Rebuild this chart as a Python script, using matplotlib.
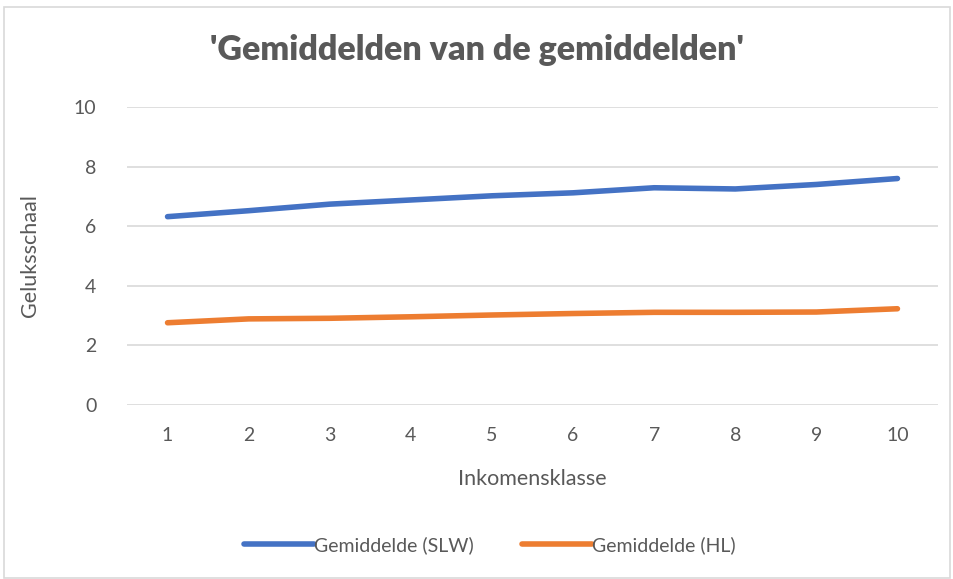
import matplotlib
matplotlib.use('Agg')
from matplotlib import pyplot as plt
from matplotlib.patches import Rectangle

klasse = [1, 2, 3, 4, 5, 6, 7, 8, 9, 10]
slw = [6.32, 6.52, 6.74, 6.88, 7.02, 7.12, 7.29, 7.25, 7.40, 7.60]
hl = [2.76, 2.89, 2.91, 2.96, 3.02, 3.07, 3.11, 3.11, 3.12, 3.23]

grey = '#595959'
plt.rcParams['font.family'] = ['Lato', 'DejaVu Sans']

fig = plt.figure(figsize=(9.54, 5.79), dpi=100)
ax = fig.add_axes([127/954, 1 - 405/579, (938-127)/954, (405-107)/579])

ax.plot(klasse, slw, color='#4472C4', linewidth=4, solid_capstyle='round', label='Gemiddelde (SLW)')
ax.plot(klasse, hl, color='#ED7D31', linewidth=4, solid_capstyle='round', label='Gemiddelde (HL)')

ax.set_xlim(0.5, 10.5)
ax.set_ylim(0, 10)
ax.set_xticks(klasse)
ax.set_yticks([0, 2, 4, 6, 8, 10])
ax.grid(axis='y', color='#D9D9D9', linewidth=1.2)
ax.set_axisbelow(True)
for s in ax.spines.values():
    s.set_visible(False)
ax.tick_params(length=0, labelsize=14, colors=grey)
ax.tick_params(axis='x', pad=16)
ax.tick_params(axis='y', pad=22)

ax.set_xlabel('Inkomensklasse', fontsize=15.5, color=grey, labelpad=18)
ax.set_ylabel('Geluksschaal', fontsize=15.5, color=grey, labelpad=24)
fig.text(0.5, 1 - 50/579, "'Gemiddelden van de gemiddelden'", ha='center', va='center',
         fontsize=24.5, fontweight='heavy', color=grey)

leg = fig.legend(loc='center', bbox_to_anchor=(490/954, 1 - 545/579), ncol=2, frameon=False,
                 fontsize=14, handlelength=3.6, handletextpad=0.0, columnspacing=2.5)
for t in leg.get_texts():
    t.set_color(grey)

fig.patches.append(Rectangle((4/954, 0.002), 946/954, 1 - 8/579, transform=fig.transFigure,
                             fill=False, edgecolor='#D9D9D9', linewidth=1.2))

fig.savefig('out.png', dpi=100)
